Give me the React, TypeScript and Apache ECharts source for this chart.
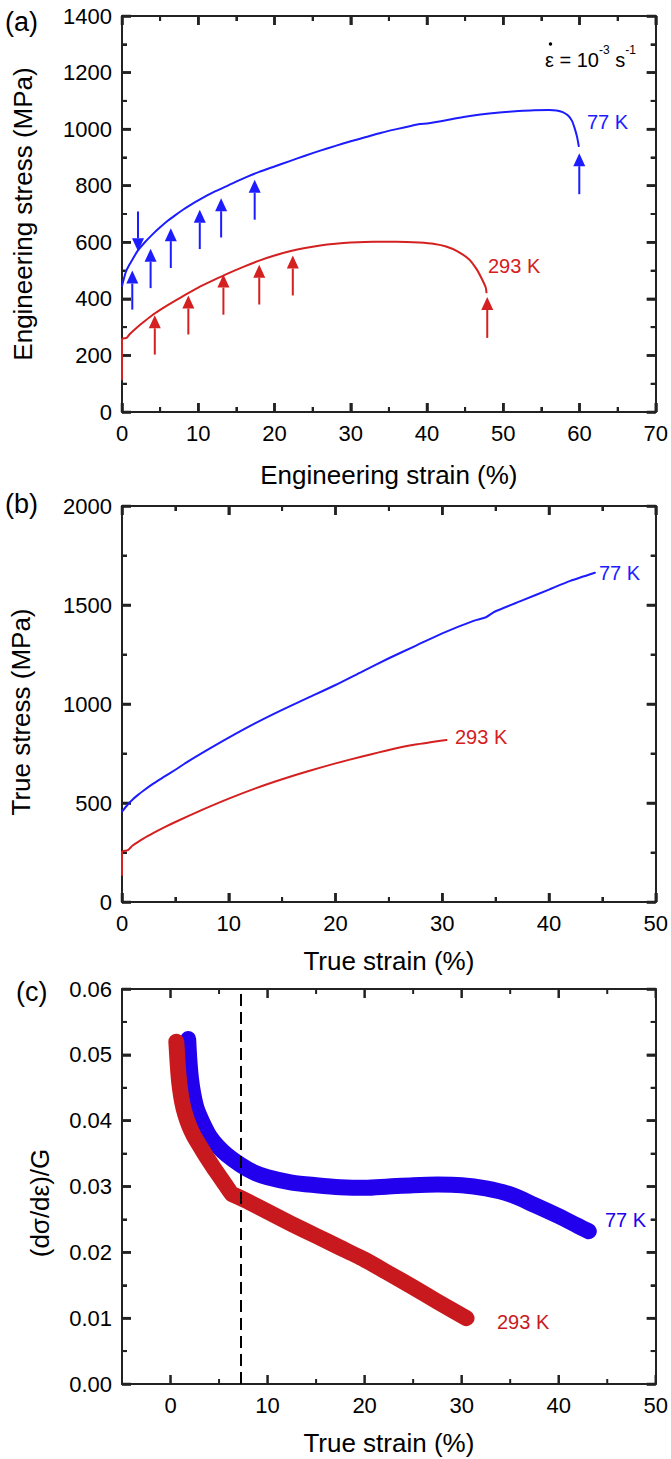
import { useEffect, useRef } from "react";
import * as echarts from "echarts";

// ---------- data ----------
// (a) engineering stress–strain, [strain %, stress MPa]
const eng77K: [number, number][] = [
  [0, 445], [0.5, 495], [1, 522], [1.5, 545], [2, 568], [3, 600], [4, 628], [5, 653],
  [6, 676], [7, 696], [8, 715], [9, 732], [10, 748], [12, 777], [14, 802], [16, 827],
  [18, 849], [20, 868], [22, 887], [24, 906], [26, 924], [28, 941], [30, 957],
  [32, 972], [34, 987], [36, 1000], [38, 1012], [39, 1018], [40, 1020], [41, 1024],
  [43, 1034], [45, 1044], [47, 1052], [49.5, 1059], [52, 1064], [54, 1067],
  [56, 1068], [57, 1066], [57.8, 1060], [58.5, 1048], [59, 1030], [59.4, 1000],
  [59.7, 970], [59.9, 940],
];
const eng293K: [number, number][] = [
  [0, 115], [0, 258], [0.6, 262], [1, 275], [2, 300], [3, 322], [4, 343], [5, 361],
  [6, 378], [8, 410], [10, 440], [12, 466], [14, 491], [16, 514], [18, 535],
  [20, 553], [22, 568], [24, 580], [26, 589], [28, 595], [30, 599], [33, 602],
  [36, 602], [39, 599], [41, 594], [42.5, 585], [44, 568], [45.5, 540], [46.5, 505],
  [47.2, 470], [47.7, 440], [47.8, 423],
];
// arrows in (a): [strain, tail stress, tip stress]
const arrows77K: [number, number, number][] = [
  [1.35, 362, 500], [2.1, 709, 568], [3.75, 438, 577], [6.4, 509, 650],
  [10.2, 576, 715], [13.0, 617, 756], [17.4, 680, 821], [59.97, 770, 915],
];
const arrows293K: [number, number, number][] = [
  [4.3, 203, 342], [8.7, 274, 412], [13.3, 344, 486], [18.0, 380, 521],
  [22.4, 412, 553], [47.9, 262, 407],
];

// (b) true stress–strain, [strain %, stress MPa]
const true77K: [number, number][] = [
  [0, 456], [0.5, 490], [1, 518], [1.5, 541], [2, 562], [3, 600], [4, 634],
  [5, 668], [6.2, 710], [8, 768], [10, 830], [12.5, 903], [15, 970], [17.5, 1033],
  [20, 1096], [22.5, 1164], [25, 1231], [27.5, 1294], [30, 1357], [33, 1421],
  [34.1, 1438], [34.9, 1466], [37.5, 1523], [40, 1578], [42, 1622], [44.3, 1663],
];
const true293K: [number, number][] = [
  [0, 136], [0, 254], [0.56, 262], [1, 285], [2, 320], [3, 350], [4, 378],
  [5, 404], [7.5, 465], [10, 522], [12.5, 574], [15, 620], [17.5, 662], [20, 700],
  [22.5, 735], [25, 768], [27.5, 795], [30.4, 818],
];

// (c) normalised strain-hardening rate, [true strain %, (dσ/dε)/G]
const hard77K: [number, number][] = [
  [1.82, 0.0524], [1.95, 0.049], [2.1, 0.0465], [2.35, 0.044], [2.7, 0.0418],
  [3.3, 0.0397], [4.0, 0.0377], [4.8, 0.0362], [5.8, 0.0348], [7.2, 0.0333],
  [8.5, 0.0322], [10, 0.0314], [12.5, 0.0306], [15, 0.0302], [17.5, 0.0299],
  [20, 0.0298], [22.5, 0.03], [25, 0.0302], [27.5, 0.0303], [30, 0.0302],
  [32.5, 0.0297], [35, 0.0288], [37.5, 0.0272], [40, 0.0255], [42, 0.024],
  [43.1, 0.0232],
];
const hard293K: [number, number][] = [
  [0.6, 0.052], [0.7, 0.0495], [0.82, 0.047], [0.98, 0.0448], [1.2, 0.0428],
  [1.5, 0.041], [1.9, 0.0393], [2.4, 0.0377], [3.0, 0.0362], [3.8, 0.0343],
  [4.6, 0.0325], [5.5, 0.0306], [6.3, 0.0289], [7, 0.0284], [8, 0.0277],
  [10, 0.0262], [12.5, 0.0243], [15, 0.0225], [17.5, 0.0207], [20, 0.0189],
  [22.5, 0.0168], [25, 0.0147], [27.5, 0.0125], [30.5, 0.01],
];
const transitionStrain = 7.26;

// tick positions (major ticks carry labels on the bottom/left axes)
const aStrainMajor = [0, 10, 20, 30, 40, 50, 60, 70];
const aStrainMinor = [5, 15, 25, 35, 45, 55, 65];
const aStressMajor = [0, 200, 400, 600, 800, 1000, 1200, 1400];
const aStressMinor = [100, 300, 500, 700, 900, 1100, 1300];
const bStrainMajor = [0, 10, 20, 30, 40, 50];
const bStrainMinor = [5, 15, 25, 35, 45];
const bStressMajor = [0, 500, 1000, 1500, 2000];
const bStressMinor = [250, 750, 1250, 1750];
const cStrainMajor = [0, 10, 20, 30, 40, 50];
const cStrainMinor = [5, 15, 25, 35, 45];
const cRateMajor = [0, 0.01, 0.02, 0.03, 0.04, 0.05, 0.06];
const cRateMinor = [0.005, 0.015, 0.025, 0.035, 0.045, 0.055];

// ---------- styling ----------
const FONT = '"Liberation Sans", Arial, Helvetica, sans-serif';
const AXIS = "#222";
const BLUE = "#1c1cff";
const RED = "#d42020";
const BLUE_C = "#2200ee";
const RED_C = "#c81a1e";
const TICK_FONT = 22;
const NAME_FONT = 26;
const MAJOR_LEN = 9;
const MINOR_LEN = 5;
const MAJOR_W = 2.5;
const MINOR_W = 2;

type AxisOpts = {
  gridIndex: number;
  position: string;
  min: number;
  max: number;
  interval: number;
  labels?: boolean;
  ticks?: boolean;
  name?: string;
  nameGap?: number;
  namePadding?: number[];
  formatter?: any;
};

const plain = (v: number) => String(v);

function axis(o: AxisOpts): any {
  const ticks = o.ticks !== false;
  return {
    type: "value",
    gridIndex: o.gridIndex,
    position: o.position,
    min: o.min,
    max: o.max,
    interval: o.interval,
    axisLine: { show: true, onZero: false, lineStyle: { color: AXIS, width: 2 } },
    axisTick: { show: ticks, inside: true, length: MAJOR_LEN, lineStyle: { color: AXIS, width: MAJOR_W } },
    minorTick: { show: ticks, splitNumber: 2, length: MINOR_LEN, lineStyle: { color: AXIS, width: MINOR_W } },
    splitLine: { show: false },
    axisLabel: {
      show: !!o.labels,
      margin: 10,
      fontSize: TICK_FONT,
      color: "#000",
      fontFamily: FONT,
      formatter: o.formatter || plain,
    },
    name: o.name,
    nameLocation: "middle",
    nameGap: o.nameGap,
    nameTextStyle: {
      fontSize: NAME_FONT,
      color: "#000",
      fontFamily: FONT,
      padding: o.namePadding || 0,
    },
  };
}

function curve(data: [number, number][], color: string, xi: number, yi: number, width = 2, smooth: any = 0.2): any {
  return {
    type: "line",
    data,
    xAxisIndex: xi,
    yAxisIndex: yi,
    showSymbol: false,
    symbol: "none",
    smooth,
    lineStyle: { color, width, cap: "round", join: "round" },
    silent: true,
  };
}

function arrows(data: [number, number, number][], color: string, xi: number, yi: number): any {
  return {
    type: "custom",
    xAxisIndex: xi,
    yAxisIndex: yi,
    data,
    silent: true,
    renderItem: (_params: any, api: any) => {
      const x = api.value(0);
      const tail = api.coord([x, api.value(1)]);
      const tip = api.coord([x, api.value(2)]);
      const dir = tip[1] < tail[1] ? -1 : 1;
      const headL = 13;
      const headW = 6;
      const base = tip[1] - dir * headL;
      return {
        type: "group",
        children: [
          {
            type: "line",
            shape: { x1: tail[0], y1: tail[1], x2: tip[0], y2: base },
            style: { stroke: color, lineWidth: 2 },
          },
          {
            type: "polygon",
            shape: { points: [[tip[0], tip[1]], [tip[0] - headW, base], [tip[0] + headW, base]] },
            style: { fill: color },
          },
        ],
      };
    },
  };
}

// Inward-pointing ticks on all four sides of a panel frame.
// Each item: [tick value, length, side] with side 0 = strain axis, 1 = stress axis.
function frameTicks(
  xi: number, yi: number,
  xRange: [number, number], yRange: [number, number],
  xMajor: number[], xMinor: number[], yMajor: number[], yMinor: number[],
): any {
  const data: number[][] = [
    ...xMajor.map((v) => [v, MAJOR_LEN, 0]),
    ...xMinor.map((v) => [v, MINOR_LEN, 0]),
    ...yMajor.map((v) => [v, MAJOR_LEN, 1]),
    ...yMinor.map((v) => [v, MINOR_LEN, 1]),
  ];
  return {
    type: "custom",
    xAxisIndex: xi,
    yAxisIndex: yi,
    data,
    silent: true,
    renderItem: (_params: any, api: any) => {
      const v = api.value(0);
      const len = api.value(1);
      const side = api.value(2);
      const w = len === MAJOR_LEN ? MAJOR_W : MINOR_W;
      if (side === 0) {
        const b = api.coord([v, yRange[0]]);
        const t = api.coord([v, yRange[1]]);
        return {
          type: "group",
          children: [
            { type: "line", shape: { x1: b[0], y1: b[1], x2: b[0], y2: b[1] - len }, style: { stroke: AXIS, lineWidth: w } },
            { type: "line", shape: { x1: t[0], y1: t[1], x2: t[0], y2: t[1] + len }, style: { stroke: AXIS, lineWidth: w } },
          ],
        };
      }
      const l = api.coord([xRange[0], v]);
      const r = api.coord([xRange[1], v]);
      return {
        type: "group",
        children: [
          { type: "line", shape: { x1: l[0], y1: l[1], x2: l[0] + len, y2: l[1] }, style: { stroke: AXIS, lineWidth: w } },
          { type: "line", shape: { x1: r[0], y1: r[1], x2: r[0] - len, y2: r[1] }, style: { stroke: AXIS, lineWidth: w } },
        ],
      };
    },
  };
}

function label(text: string, x: number, y: number, color: string, size = 20): any {
  return {
    type: "text",
    x,
    y,
    style: { text, fill: color, font: `${size}px ${FONT}`, verticalAlign: "middle", align: "left" },
  };
}

export default function App() {
  const ref = useRef<HTMLDivElement>(null);

  useEffect(() => {
    if (!ref.current) return;
    const chart = echarts.init(ref.current, null, { renderer: "svg" });

    const tensStrain = (v: number) => (v % 10 === 0 ? String(v) : "");

    const option: any = {
      animation: false,
      backgroundColor: "#fff",
      textStyle: { fontFamily: FONT },
      grid: [
        { left: 122, top: 16, width: 535, height: 396 },
        { left: 122, top: 506, width: 535, height: 396 },
        { left: 122, top: 989, width: 535, height: 395 },
      ],
      xAxis: [
        axis({ gridIndex: 0, position: "bottom", min: 0, max: 70, interval: 10, labels: true, name: "Engineering strain (%)", nameGap: 50 }),
        axis({ gridIndex: 0, position: "top", min: 0, max: 70, interval: 10 }),
        axis({ gridIndex: 1, position: "bottom", min: 0, max: 50, interval: 10, labels: true, name: "True strain (%)", nameGap: 46 }),
        axis({ gridIndex: 1, position: "top", min: 0, max: 50, interval: 10 }),
        axis({ gridIndex: 2, position: "bottom", min: -5, max: 50, interval: 5, labels: true, ticks: false, name: "True strain (%)", nameGap: 46, formatter: tensStrain }),
        axis({ gridIndex: 2, position: "top", min: -5, max: 50, interval: 5, ticks: false }),
      ],
      yAxis: [
        axis({ gridIndex: 0, position: "left", min: 0, max: 1400, interval: 200, labels: true, name: "Engineering stress (MPa)", nameGap: 86 }),
        axis({ gridIndex: 0, position: "right", min: 0, max: 1400, interval: 200 }),
        axis({ gridIndex: 1, position: "left", min: 0, max: 2000, interval: 500, labels: true, name: "True stress (MPa)", nameGap: 88, namePadding: [0, 16, 0, 0] }),
        axis({ gridIndex: 1, position: "right", min: 0, max: 2000, interval: 500 }),
        axis({
          gridIndex: 2, position: "left", min: 0, max: 0.06, interval: 0.01, labels: true,
          name: "(dσ/dε)/G", nameGap: 69, namePadding: [0, 33, 0, 0],
          formatter: (v: number) => v.toFixed(2),
        }),
        axis({ gridIndex: 2, position: "right", min: 0, max: 0.06, interval: 0.01 }),
      ],
      series: [
        frameTicks(0, 0, [0, 70], [0, 1400], aStrainMajor, aStrainMinor, aStressMajor, aStressMinor),
        frameTicks(2, 2, [0, 50], [0, 2000], bStrainMajor, bStrainMinor, bStressMajor, bStressMinor),
        frameTicks(4, 4, [-5, 50], [0, 0.06], cStrainMajor, cStrainMinor, cRateMajor, cRateMinor),
        curve(eng77K, BLUE, 0, 0),
        curve(eng293K, RED, 0, 0),
        arrows(arrows77K, BLUE, 0, 0),
        arrows(arrows293K, RED, 0, 0),
        curve(true77K, BLUE, 2, 2),
        curve(true293K, RED, 2, 2),
        curve(hard77K, BLUE_C, 4, 4, 16, 0.3),
        {
          ...curve(hard293K, RED_C, 4, 4, 16, 0.15),
          markLine: {
            silent: true,
            symbol: "none",
            label: { show: false },
            lineStyle: { color: "#000", width: 2, type: [12, 6] },
            data: [{ xAxis: transitionStrain }],
          },
        },
      ],
      graphic: [
        label("(a)", 5, 22, "#000", 27),
        label("(b)", 5, 504, "#000", 27),
        label("(c)", 16, 992, "#000", 27),
        {
          type: "text",
          x: 545,
          y: 57,
          style: {
            text: "{n|ε = 10}{s|-3}{n| s}{s|-1}",
            fill: "#000",
            verticalAlign: "middle",
            rich: {
              n: { fontSize: 20, fontFamily: FONT, fill: "#000", lineHeight: 26, verticalAlign: "bottom" },
              s: { fontSize: 12, fontFamily: FONT, fill: "#000", lineHeight: 26, verticalAlign: "top" },
            },
          },
        },
        { type: "circle", shape: { cx: 550.5, cy: 44, r: 1.7 }, style: { fill: "#000" } },
        label("77 K", 587, 122, BLUE),
        label("293 K", 488, 266, RED),
        label("77 K", 599, 573, BLUE),
        label("293 K", 455, 737, RED),
        label("77 K", 605, 1220, BLUE_C),
        label("293 K", 497, 1322, RED_C),
      ],
    };

    chart.setOption(option);
    return () => chart.dispose();
  }, []);

  return (
    <div
      ref={ref}
      style={{ position: "absolute", left: 0, top: 0, width: 671, height: 1459, background: "#fff" }}
    />
  );
}
